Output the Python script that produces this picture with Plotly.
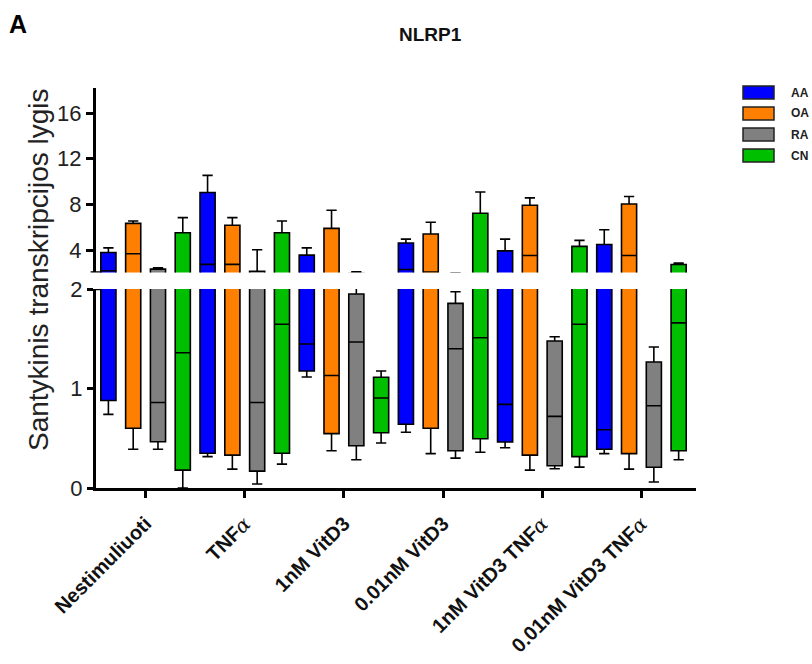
import plotly.graph_objects as go

categories = ["Nestimuliuoti", "TNFa", "1nM VitD3", "0.01nM VitD3", "1nM VitD3 TNFa", "0.01nM VitD3 TNFa"]
alpha = "<span style='font-family:DejaVu Serif;font-weight:normal;font-style:italic'>α</span>"
tick_text = ["Nestimuliuoti", "TNF" + alpha, "1nM VitD3", "0.01nM VitD3",
             "1nM VitD3 TNF" + alpha, "0.01nM VitD3 TNF" + alpha]

series = ["AA", "OA", "RA", "CN"]
colors = ["#0000FF", "#FF8000", "#808080", "#00BE00"]

AA_low = [0.74, 0.315, 1.115, 0.56, 0.405, 0.345]
AA_q1 = [0.88, 0.35, 1.176, 0.64, 0.462, 0.39]
AA_med = [2.18, 2.74, 1.447, 2.30, 0.84, 0.586]
AA_q3 = [3.79, 9.04, 3.55, 4.61, 3.93, 4.49]
AA_high = [4.19, 10.54, 4.19, 4.96, 4.96, 5.78]

OA_low = [0.39, 0.19, 0.375, 0.345, 0.18, 0.19]
OA_q1 = [0.60, 0.33, 0.546, 0.60, 0.33, 0.345]
OA_med = [3.67, 2.74, 1.13, 2.08, 3.52, 3.52]
OA_q3 = [6.34, 6.17, 5.90, 5.40, 7.93, 8.04]
OA_high = [6.55, 6.84, 7.49, 6.43, 8.57, 8.69]

RA_low = [0.39, 0.04, 0.284, 0.30, 0.194, 0.06]
RA_q1 = [0.465, 0.17, 0.425, 0.375, 0.224, 0.208]
RA_med = [0.86, 0.86, 1.467, 1.40, 0.72, 0.827]
RA_q3 = [2.33, 2.13, 1.95, 1.856, 1.477, 1.266]
RA_high = [2.45, 4.03, 2.09, 1.973, 1.52, 1.417]

CN_low = [0.0, 0.24, 0.452, 0.36, 0.21, 0.284]
CN_q1 = [0.18, 0.35, 0.556, 0.495, 0.315, 0.375]
CN_med = [1.36, 1.645, 0.905, 1.51, 1.645, 1.66]
CN_q3 = [5.52, 5.52, 1.113, 7.22, 4.32, 2.73]
CN_high = [6.84, 6.55, 1.176, 9.08, 4.85, 2.87]

stats = {
    "AA": (AA_low, AA_q1, AA_med, AA_q3, AA_high),
    "OA": (OA_low, OA_q1, OA_med, OA_q3, OA_high),
    "RA": (RA_low, RA_q1, RA_med, RA_q3, RA_high),
    "CN": (CN_low, CN_q1, CN_med, CN_q3, CN_high),
}

upper_ticks = [4, 8, 12, 16]
lower_ticks = [0, 1, 2]
upper_range = [2.04, 18.2]
lower_range = [0, 2]

fig = go.Figure()
for name, col in zip(series, colors):
    lo, q1, med, q3, hi = stats[name]
    for yax in ["y", "y2"]:
        fig.add_trace(go.Box(
            x=categories, lowerfence=lo, q1=q1, median=med, q3=q3, upperfence=hi,
            name=name, fillcolor=col, line=dict(color="black", width=1.6),
            whiskerwidth=0.68, boxpoints=False, showlegend=False,
            offsetgroup=name, alignmentgroup="all",
            xaxis="x", yaxis=yax, hoverinfo="skip",
        ))

tick_font = dict(family="Liberation Sans, Arial", size=22, color="#222")

fig.update_layout(
    width=812, height=664,
    margin=dict(l=96, r=116, t=88, b=176, autoexpand=False),
    paper_bgcolor="white", plot_bgcolor="white",
    boxmode="group", boxgap=0.0, boxgroupgap=0.39,
    showlegend=False,
    xaxis=dict(
        domain=[0, 1], anchor="y", type="category",
        categoryorder="array", categoryarray=categories,
        range=[-0.5, 5.55], automargin=False,
        tickvals=categories, ticktext=tick_text, tickangle=-45,
        ticklabelstandoff=6,
        showline=True, linecolor="black", linewidth=3,
        ticks="outside", ticklen=7, tickwidth=3, tickcolor="black",
        showgrid=False, zeroline=False,
        tickfont=dict(family="Liberation Sans, Arial", size=20, color="#111", weight="bold"),
    ),
    yaxis=dict(
        domain=[0, 0.4975], anchor="x", range=lower_range, automargin=False,
        tickvals=lower_ticks, ticktext=[str(v) for v in lower_ticks],
        showline=True, linecolor="black", linewidth=3,
        ticks="outside", ticklen=6, tickwidth=2.5, tickcolor="black",
        showgrid=False, zeroline=False, tickfont=tick_font,
    ),
    yaxis2=dict(
        domain=[0.539, 1], anchor="x", range=upper_range, automargin=False,
        tickvals=upper_ticks, ticktext=[str(v) for v in upper_ticks],
        showline=True, linecolor="black", linewidth=3,
        ticks="outside", ticklen=7, tickwidth=2.5, tickcolor="black",
        showgrid=False, zeroline=False, tickfont=tick_font,
    ),
)

# axis break marks
fig.add_shape(type="line", xref="paper", yref="y2", x0=-0.009, x1=0.008,
              y0=upper_range[0], y1=upper_range[0], line=dict(color="black", width=2.5))
fig.add_shape(type="line", xref="paper", yref="y", x0=-0.009, x1=0.008,
              y0=lower_range[1], y1=lower_range[1], line=dict(color="black", width=2.5))

# manual legend
for i, (name, col) in enumerate(zip(series, colors)):
    y_top = 86 + i * 21
    fig.add_shape(type="rect", xref="paper", yref="paper",
                  x0=(743 - 96) / 600, x1=(774 - 96) / 600,
                  y0=(488 - y_top) / 400, y1=(488 - y_top - 13) / 400,
                  fillcolor=col, line=dict(color="#222", width=1.5))
    fig.add_annotation(text=name, xref="paper", yref="paper",
                       x=(789 - 96) / 600, y=(488 - y_top - 6.5) / 400,
                       xanchor="left", yanchor="middle", showarrow=False,
                       font=dict(family="Liberation Sans, Arial", size=12, color="#222", weight="bold"))

fig.add_annotation(text="Santykinis transkripcijos lygis", textangle=-90,
                   xref="paper", yref="paper", x=(38 - 96) / 600, y=(488 - 270) / 400,
                   xanchor="center", yanchor="middle", showarrow=False,
                   font=dict(family="Liberation Sans, Arial", size=28, color="#222"))
fig.add_annotation(text="NLRP1", xref="paper", yref="paper",
                   x=(430 - 96) / 600, y=(488 - 35) / 400,
                   xanchor="center", yanchor="middle", showarrow=False,
                   font=dict(family="Liberation Sans, Arial", size=19, color="#111", weight="bold"))
fig.add_annotation(text="A", xref="paper", yref="paper",
                   x=(18 - 96) / 600, y=(488 - 24) / 400,
                   xanchor="center", yanchor="middle", showarrow=False,
                   font=dict(family="Liberation Sans, Arial", size=25, color="black", weight="bold"))

fig.write_html("out.html")
